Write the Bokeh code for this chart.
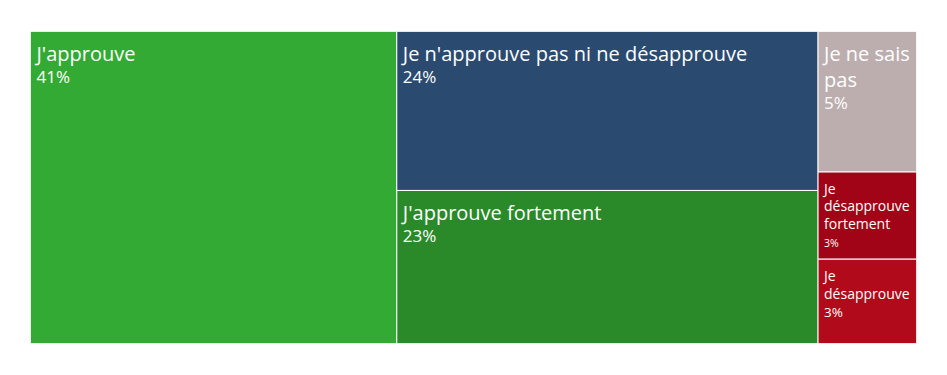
from bokeh.plotting import figure
from bokeh.models import Range1d, ColumnDataSource
from bokeh.core.properties import value
from bokeh.embed import file_html
from bokeh.resources import INLINE

# ---- data ----
labels = ["J'approuve", "Je n'approuve pas ni ne désapprouve", "J'approuve fortement",
          "Je ne sais pas", "Je désapprouve fortement", "Je désapprouve"]
values = [41.3, 24.2, 23.3, 5.0, 3.1, 3.0]
colors = ["#33aa33", "#2a4a70", "#2a8a2a", "#bcaeae", "#a00416", "#b10a1a"]

# ---- style ----
label_sizes = [20, 20, 20, 20, 14, 14]
pct_sizes = [17, 17, 17, 17, 10.5, 13.5]
FONT = "Open Sans"
FW, FH = 886, 312  # frame size in px

CW = {" ": .26, "'": .221, "a": .556, "b": .613, "c": .479, "d": .613, "e": .561, "é": .561,
      "f": .336, "g": .546, "h": .613, "i": .253, "j": .253, "k": .529, "l": .253, "m": .932,
      "n": .613, "o": .604, "p": .613, "q": .613, "r": .408, "s": .477, "t": .353, "u": .613,
      "v": .507, "w": .786, "x": .529, "y": .507, "z": .467, "J": .258}


def tw(s, size):
    return sum(CW.get(c, .6) for c in s) * size


def wrap(s, size, width):
    words = s.split(" ")
    lines, cur = [], ""
    for w in words:
        t = (cur + " " + w) if cur else w
        if cur and tw(t, size) > width:
            lines.append(cur)
            cur = w
        else:
            cur = t
    lines.append(cur)
    return lines


def squarify(vals, x0, y0, x1, y1, ratio=(1 + 5 ** 0.5) / 2):
    rects = [None] * len(vals)
    total = sum(vals)
    i0 = i1 = 0
    n = len(vals)
    while i0 < n:
        dx, dy = x1 - x0, y1 - y0
        sumv = vals[i1]
        i1 += 1
        minv = maxv = sumv
        alpha = max(dy / dx, dx / dy) / (total * ratio)
        beta = sumv * sumv * alpha
        minr = max(maxv / beta, beta / minv)
        while i1 < n:
            nv = vals[i1]
            s = sumv + nv
            mn, mx = min(minv, nv), max(maxv, nv)
            beta = s * s * alpha
            nr = max(mx / beta, beta / mn)
            if nr > minr:
                break
            sumv, minv, maxv, minr = s, mn, mx, nr
            i1 += 1
        if dx < dy:
            yb = y0 + dy * sumv / total if i1 < n else y1
            cx = x0
            for k in range(i0, i1):
                w = dx * vals[k] / sumv
                rects[k] = (cx, y0, cx + w, yb)
                cx += w
            y0 = yb
        else:
            xb = x0 + dx * sumv / total if i1 < n else x1
            cy = y0
            for k in range(i0, i1):
                h = dy * vals[k] / sumv
                rects[k] = (x0, cy, xb, cy + h)
                cy += h
            x0 = xb
        total -= sumv
        i0 = i1
    return rects


order = sorted(range(len(values)), key=lambda i: -values[i])
svals = [values[i] for i in order]
srects = squarify(svals, 0, 0, FW, FH)
rects = [None] * len(values)
for k, i in enumerate(order):
    rects[i] = srects[k]

tot = sum(values)

p = figure(width=931, height=358, output_backend="svg", toolbar_location=None,
           x_range=Range1d(0, FW), y_range=Range1d(FH, 0),
           min_border_left=30, min_border_top=31, min_border_right=15, min_border_bottom=15)
p.axis.visible = False
p.grid.visible = False
p.outline_line_color = None
p.background_fill_color = "white"

src = ColumnDataSource(dict(
    left=[r[0] for r in rects], right=[r[2] for r in rects],
    top=[r[1] for r in rects], bottom=[r[3] for r in rects], color=colors))
p.quad(left="left", right="right", top="top", bottom="bottom", fill_color="color",
       line_color="white", line_width=1, source=src)

tx, ty, tt, ts = [], [], [], []
for i, lab in enumerate(labels):
    x0, y0, x1, y1 = rects[i]
    ls, ps = label_sizes[i], pct_sizes[i]
    lines = wrap(lab, ls, (x1 - x0) - 8)
    y = y0 + ls + 2
    for j, ln in enumerate(lines):
        if j:
            y += 1.28 * ls
        tx.append(x0 + 6); ty.append(y); tt.append(ln); ts.append(f"{ls}px")
    y += 0.3 * ls + ps + (4 if ps < 12 else (1.5 if ls < 18 else 0))
    tx.append(x0 + 6); ty.append(y); tt.append(f"{round(100 * values[i] / tot)}%"); ts.append(f"{ps}px")

tsrc = ColumnDataSource(dict(x=tx, y=ty, text=tt, size=ts))
p.text(x="x", y="y", text="text", text_font_size="size", text_font=value(FONT),
       text_color="white", text_baseline="alphabetic", text_align="left", source=tsrc)

open("out.html", "w").write(file_html(p, INLINE))
